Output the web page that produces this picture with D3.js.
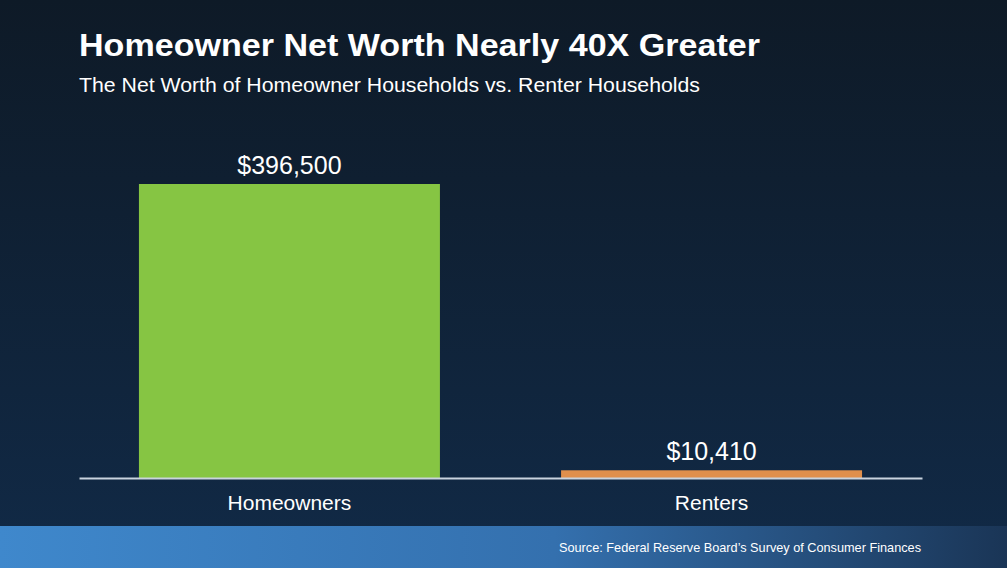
<!DOCTYPE html>
<html>
<head>
<meta charset="utf-8">
<script src="https://cdn.jsdelivr.net/npm/d3@7"></script>
<style>
  html, body { margin: 0; padding: 0; background: #0f1c2c; }
  svg { display: block; }
</style>
</head>
<body>
<svg width="1007" height="568"></svg>
<script>
var categories = ["Homeowners", "Renters"];
var values = [396500, 10410];
var valueLabels = ["$396,500", "$10,410"];
var barColors = ["#86c543", "#e08f4c"];

var svg = d3.select("svg"),
    width = +svg.attr("width"),
    height = +svg.attr("height");

var defs = svg.append("defs");

var bg = defs.append("linearGradient")
    .attr("id", "bg")
    .attr("x1", 0).attr("y1", 0).attr("x2", 0).attr("y2", 1);
bg.append("stop").attr("offset", "0%").attr("stop-color", "#0e1a27");
bg.append("stop").attr("offset", "100%").attr("stop-color", "#112a47");

var band = defs.append("linearGradient")
    .attr("id", "band")
    .attr("x1", 0).attr("y1", 0).attr("x2", 1).attr("y2", 0);
band.append("stop").attr("offset", "0%").attr("stop-color", "#3f88cc");
band.append("stop").attr("offset", "55%").attr("stop-color", "#3470ae");
band.append("stop").attr("offset", "100%").attr("stop-color", "#1a3556");

svg.append("rect")
    .attr("width", width)
    .attr("height", height)
    .attr("fill", "url(#bg)");

svg.append("rect")
    .attr("y", 526)
    .attr("width", width)
    .attr("height", height - 526)
    .attr("fill", "url(#band)");

// titles are a bit wider than Arial in the original, so stretch them
svg.append("text")
    .attr("x", 79)
    .attr("y", 56)
    .attr("fill", "#ffffff")
    .attr("textLength", 681)
    .attr("lengthAdjust", "spacingAndGlyphs")
    .style("font-family", "Liberation Sans, Arial, sans-serif")
    .style("font-weight", "bold")
    .style("font-size", "32px")
    .text("Homeowner Net Worth Nearly 40X Greater");

svg.append("text")
    .attr("x", 79)
    .attr("y", 92)
    .attr("fill", "#ffffff")
    .attr("textLength", 621)
    .attr("lengthAdjust", "spacingAndGlyphs")
    .style("font-family", "Liberation Sans, Arial, sans-serif")
    .style("font-size", "20.5px")
    .text("The Net Worth of Homeowner Households vs. Renter Households");

var x = d3.scaleBand()
    .domain(categories)
    .range([79, 922])
    .paddingInner(0.287)
    .paddingOuter(0.142);

var y = d3.scaleLinear()
    .domain([0, d3.max(values)])
    .range([478, 184]);

var data = categories.map(function (c, i) {
    return { cat: c, value: values[i], label: valueLabels[i], color: barColors[i] };
});

svg.append("g")
    .selectAll("rect")
    .data(data)
    .enter().append("rect")
    .attr("x", function (d) { return x(d.cat); })
    .attr("y", function (d) { return y(d.value); })
    .attr("width", x.bandwidth())
    .attr("height", function (d) { return y(0) - y(d.value); })
    .attr("fill", function (d) { return d.color; });

svg.append("g")
    .selectAll("text")
    .data(data)
    .enter().append("text")
    .attr("x", function (d) { return x(d.cat) + x.bandwidth() / 2; })
    .attr("y", function (d) { return y(d.value) - 10; })
    .attr("text-anchor", "middle")
    .attr("fill", "#ffffff")
    .style("font-family", "Liberation Sans, Arial, sans-serif")
    .style("font-size", "25px")
    .text(function (d) { return d.label; });

// x axis: baseline + category labels
var xAxis = svg.append("g")
    .attr("transform", "translate(0," + y(0) + ")")
    .call(d3.axisBottom(x).tickSize(0).tickPadding(17));

xAxis.select(".domain")
    .attr("stroke", "#c9d3de")
    .attr("stroke-width", 2);

xAxis.selectAll("text")
    .attr("fill", "#ffffff")
    .style("font-family", "Liberation Sans, Arial, sans-serif")
    .style("font-size", "21px");

svg.append("text")
    .attr("x", 921)
    .attr("y", 552)
    .attr("text-anchor", "end")
    .attr("fill", "#ffffff")
    .attr("textLength", 362)
    .attr("lengthAdjust", "spacingAndGlyphs")
    .style("font-family", "Liberation Sans, Arial, sans-serif")
    .style("font-size", "13.5px")
    .text("Source: Federal Reserve Board\u2019s Survey of Consumer Finances");
</script>
</body>
</html>
